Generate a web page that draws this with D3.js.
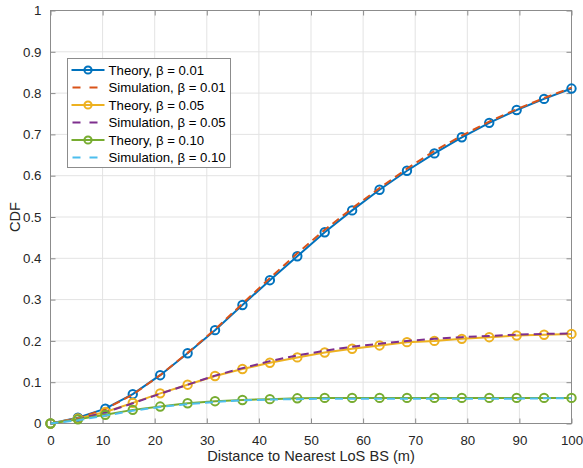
<!DOCTYPE html>
<html>
<head>
<meta charset="utf-8">
<script src="https://cdn.jsdelivr.net/npm/d3@7"></script>
<style>
  html, body { margin: 0; padding: 0; background: #fff; }
  svg { display: block; font-family: "Liberation Sans", Arial, Helvetica, sans-serif; }
</style>
</head>
<body>
<svg id="chart" width="583" height="468"></svg>
<script>
// Sample distances (m): 20 evenly spaced points from 0 to 100
const distances = [0, 5.263, 10.526, 15.789, 21.053, 26.316, 31.579, 36.842, 42.105, 47.368,
                   52.632, 57.895, 63.158, 68.421, 73.684, 78.947, 84.211, 89.474, 94.737, 100];

// CDF of distance to nearest LoS base station
const theory001 = [0, 0.014, 0.036, 0.071, 0.117, 0.170, 0.226, 0.287, 0.347, 0.405,
                   0.463, 0.516, 0.566, 0.612, 0.654, 0.693, 0.728, 0.759, 0.786, 0.811];
const sim001    = [0, 0.013, 0.035, 0.070, 0.117, 0.171, 0.228, 0.290, 0.352, 0.412,
                   0.469, 0.521, 0.570, 0.617, 0.660, 0.697, 0.731, 0.761, 0.788, 0.813];
const theory005 = [0, 0.012, 0.028, 0.050, 0.073, 0.094, 0.115, 0.132, 0.147, 0.160,
                   0.172, 0.181, 0.189, 0.197, 0.200, 0.205, 0.209, 0.213, 0.215, 0.217];
const sim005    = [0, 0.011, 0.027, 0.049, 0.072, 0.094, 0.116, 0.134, 0.151, 0.165,
                   0.176, 0.186, 0.193, 0.200, 0.205, 0.209, 0.212, 0.215, 0.217, 0.218];
const theory010 = [0, 0.010, 0.021, 0.033, 0.041, 0.049, 0.054, 0.057, 0.059, 0.061,
                   0.062, 0.062, 0.062, 0.062, 0.062, 0.062, 0.062, 0.062, 0.062, 0.062];
const sim010    = [0, 0.008, 0.019, 0.031, 0.040, 0.047, 0.052, 0.056, 0.058, 0.059,
                   0.060, 0.060, 0.060, 0.060, 0.060, 0.060, 0.060, 0.060, 0.061, 0.061];

const seriesNames = ["Theory, β = 0.01", "Simulation, β = 0.01",
                     "Theory, β = 0.05", "Simulation, β = 0.05",
                     "Theory, β = 0.10", "Simulation, β = 0.10"];
const seriesValues = [theory001, sim001, theory005, sim005, theory010, sim010];
const seriesColors = ["#0072BD", "#D95319", "#EDB120", "#7E2F8E", "#77AC30", "#4DBEEE"];
const seriesIsTheory = [true, false, true, false, true, false];

const xTicks = [0, 10, 20, 30, 40, 50, 60, 70, 80, 90, 100];
const yTicks = [0, 0.1, 0.2, 0.3, 0.4, 0.5, 0.6, 0.7, 0.8, 0.9, 1];
const xLabel = "Distance to Nearest LoS BS (m)";
const yLabel = "CDF";

const svg = d3.select("#chart");
const plot = { left: 50.5, right: 571.5, top: 10.5, bottom: 423.5 };

const x = d3.scaleLinear().domain([0, 100]).range([plot.left, plot.right]);
const y = d3.scaleLinear().domain([0, 1]).range([plot.bottom, plot.top]);

const axisColor = "#262626";
const frameColor = "#8c8c8c";
const tickFont = 13.3;
const titleFont = 14.6;

// Grid lines
const grid = svg.append("g");
grid.selectAll("line.gx").data(xTicks).join("line")
  .attr("x1", d => x(d)).attr("x2", d => x(d))
  .attr("y1", plot.top).attr("y2", plot.bottom)
  .attr("stroke", "#e3e3e3").attr("stroke-width", 1);
grid.selectAll("line.gy").data(yTicks).join("line")
  .attr("y1", d => y(d)).attr("y2", d => y(d))
  .attr("x1", plot.left).attr("x2", plot.right)
  .attr("stroke", "#e3e3e3").attr("stroke-width", 1);

// Axes with inward ticks
const fmtY = d => d === 0 ? "0" : (d === 1 ? "1" : d3.format(".1f")(d));
const styleAxis = g => {
  g.select(".domain").remove();
  g.selectAll(".tick line").attr("stroke", frameColor);
  g.selectAll(".tick text").attr("fill", axisColor).attr("font-size", tickFont)
    .attr("font-family", "Liberation Sans, Arial, sans-serif");
};
svg.append("g").attr("transform", `translate(0,${plot.bottom})`)
  .call(d3.axisBottom(x).tickValues(xTicks).tickSizeInner(-5).tickSizeOuter(0).tickPadding(12).tickFormat(d3.format("d")))
  .call(styleAxis);
svg.append("g").attr("transform", `translate(0,${plot.top})`)
  .call(d3.axisTop(x).tickValues(xTicks).tickSizeInner(-5).tickSizeOuter(0).tickFormat(""))
  .call(styleAxis);
svg.append("g").attr("transform", `translate(${plot.left},0)`)
  .call(d3.axisLeft(y).tickValues(yTicks).tickSizeInner(-5).tickSizeOuter(0).tickPadding(9).tickFormat(fmtY))
  .call(styleAxis);
svg.append("g").attr("transform", `translate(${plot.right},0)`)
  .call(d3.axisRight(y).tickValues(yTicks).tickSizeInner(-5).tickSizeOuter(0).tickFormat(""))
  .call(styleAxis);

// Frame
svg.append("rect")
  .attr("x", plot.left).attr("y", plot.top)
  .attr("width", plot.right - plot.left).attr("height", plot.bottom - plot.top)
  .attr("fill", "none").attr("stroke", frameColor).attr("stroke-width", 1);

// Axis titles
svg.append("text")
  .attr("x", (plot.left + plot.right) / 2).attr("y", 461)
  .attr("text-anchor", "middle").attr("font-size", titleFont).attr("fill", axisColor)
  .text(xLabel);
svg.append("text")
  .attr("transform", `translate(19.5,${(plot.top + plot.bottom) / 2}) rotate(-90)`)
  .attr("text-anchor", "middle").attr("font-size", titleFont).attr("fill", axisColor)
  .text(yLabel);

// Curves
const line = d3.line().x((d, i) => x(distances[i])).y(d => y(d));
const curves = svg.append("g");
seriesValues.forEach((vals, k) => {
  const g = curves.append("g");
  g.append("path")
    .datum(vals)
    .attr("d", line)
    .attr("fill", "none")
    .attr("stroke", seriesColors[k])
    .attr("stroke-width", 2)
    .attr("stroke-dasharray", seriesIsTheory[k] ? null : "8,5")
    .attr("stroke-linejoin", "round");
  if (seriesIsTheory[k]) {
    g.selectAll("circle").data(vals).join("circle")
      .attr("cx", (d, i) => x(distances[i]))
      .attr("cy", d => y(d))
      .attr("r", 4.2)
      .attr("fill", "none")
      .attr("stroke", seriesColors[k])
      .attr("stroke-width", 2);
  }
});

// Legend
const legend = svg.append("g").attr("transform", "translate(67.5,58.5)");
legend.append("rect")
  .attr("width", 163).attr("height", 109)
  .attr("fill", "#fff").attr("stroke", frameColor).attr("stroke-width", 1);
const rowH = 17.5;
seriesNames.forEach((name, k) => {
  const cy = 11.5 + k * rowH;
  const row = legend.append("g");
  row.append("line")
    .attr("x1", 4).attr("x2", 37).attr("y1", cy).attr("y2", cy)
    .attr("stroke", seriesColors[k]).attr("stroke-width", 2)
    .attr("stroke-dasharray", seriesIsTheory[k] ? null : "8,9")
    .attr("stroke-dashoffset", seriesIsTheory[k] ? null : -1);
  if (seriesIsTheory[k]) {
    row.append("circle").attr("cx", 20.5).attr("cy", cy).attr("r", 3.6)
      .attr("fill", "none").attr("stroke", seriesColors[k]).attr("stroke-width", 2);
  }
  row.append("text")
    .attr("x", 41).attr("y", cy + 4.5)
    .attr("font-size", 13.2).attr("fill", "#000")
    .text(name);
});
</script>
</body>
</html>
